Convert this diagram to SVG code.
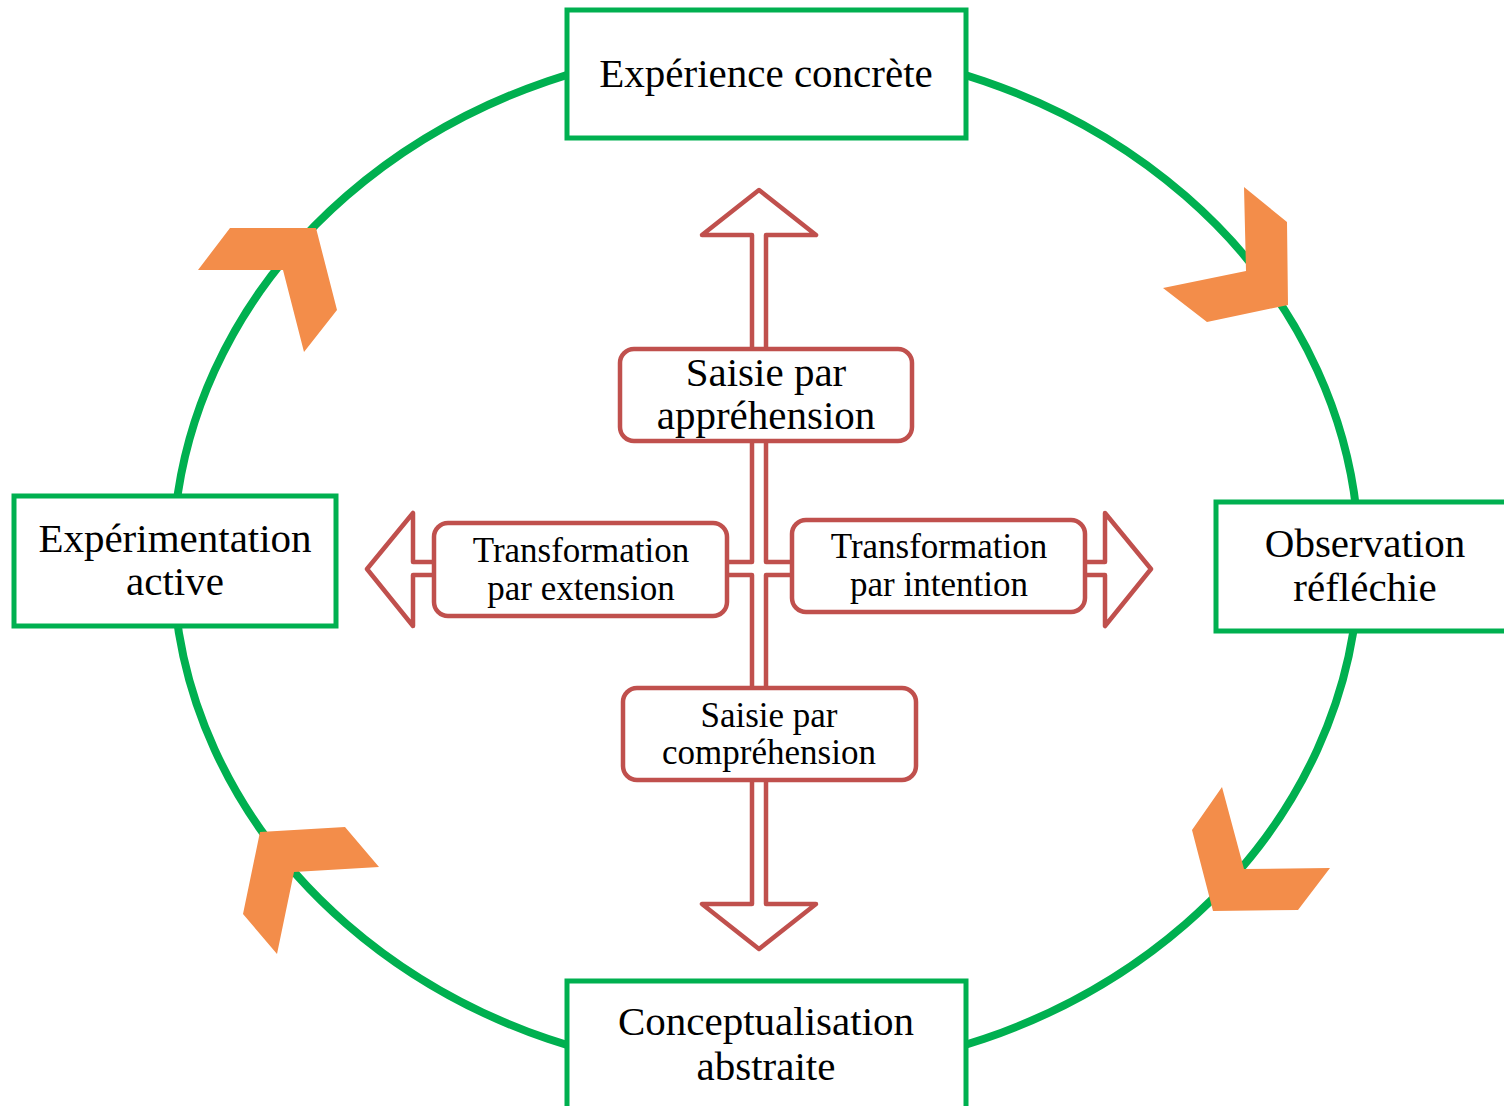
<svg xmlns="http://www.w3.org/2000/svg" width="1504" height="1106" viewBox="0 0 1504 1106">
<style>
.cycle{fill:none;stroke:#00B050;stroke-width:8}
.gbox{fill:#fff;stroke:#00B050;stroke-width:5}
.chev{fill:#F38D4A}
.rbox{fill:#fff;stroke:#C0504D;stroke-width:4.5}
.arr{fill:#fff;stroke:#C0504D;stroke-width:4.5;stroke-linejoin:round}
.t{font-family:"Liberation Serif","DejaVu Serif",serif;fill:#000;text-anchor:middle}
.big{font-size:41px}
.small{font-size:35px}
</style>
<rect width="1504" height="1106" fill="#fff"/>
<g id="connectors">
<ellipse class="cycle" cx="766" cy="560" rx="593" ry="515"/>
<polygon class="chev" points="1244,187 1287,222 1288,305 1207,322 1163,288 1246,271"/>
<polygon class="chev" points="230,228 316,228 337,310 304,352 283,270 198,270"/>
<polygon class="chev" points="260,832 345,827 379,867 294,872 277,954 243,914"/>
<polygon class="chev" points="1222,787 1244,869 1330,868 1298,910 1213,911 1192,830"/>
<path class="arr" d="M759,190 L816,235 L766,235 L766,562 L1105,562 L1105,513 L1151,569 L1105,626 L1105,575 L766,575 L766,904 L816,904 L759,949 L702,904 L752,904 L752,575 L413,575 L413,626 L367,569 L413,513 L413,562 L752,562 L752,235 L702,235 Z"/>
</g>
<g id="n-experience">
<rect class="gbox" x="567" y="10" width="399" height="128"/>
<text class="t big" x="766" y="87">Expérience concrète</text>
</g>
<g id="n-experimentation">
<rect class="gbox" x="14" y="496" width="322" height="130"/>
<text class="t big" x="175" y="552">Expérimentation</text>
<text class="t big" x="175" y="595">active</text>
</g>
<g id="n-observation">
<rect class="gbox" x="1216" y="502" width="292" height="129"/>
<text class="t big" x="1365" y="557">Observation</text>
<text class="t big" x="1365" y="601">réfléchie</text>
</g>
<g id="n-conceptualisation">
<rect class="gbox" x="567" y="981" width="399" height="130"/>
<text class="t big" x="766" y="1035">Conceptualisation</text>
<text class="t big" x="766" y="1080">abstraite</text>
</g>
<g id="n-apprehension">
<rect class="rbox" x="620" y="349" width="292" height="92" rx="14"/>
<text class="t big" x="766" y="386">Saisie par</text>
<text class="t big" x="766" y="429">appréhension</text>
</g>
<g id="n-extension">
<rect class="rbox" x="434" y="523" width="293" height="93" rx="14"/>
<text class="t small" x="581" y="562">Transformation</text>
<text class="t small" x="581" y="600">par extension</text>
</g>
<g id="n-intention">
<rect class="rbox" x="792" y="520" width="293" height="92" rx="14"/>
<text class="t small" x="939" y="558">Transformation</text>
<text class="t small" x="939" y="596">par intention</text>
</g>
<g id="n-comprehension">
<rect class="rbox" x="623" y="688" width="293" height="92" rx="14"/>
<text class="t small" x="769" y="727">Saisie par</text>
<text class="t small" x="769" y="764">compréhension</text>
</g>
</svg>
